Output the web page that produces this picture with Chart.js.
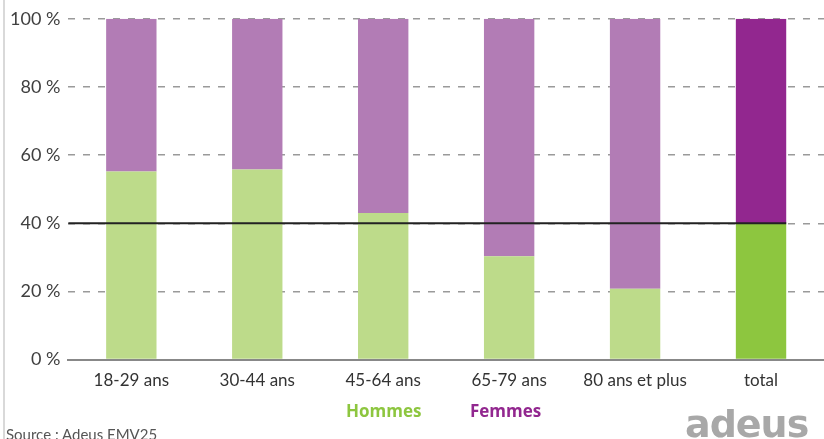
<!DOCTYPE html>
<html>
<head>
<meta charset="utf-8">
<script src="https://cdn.jsdelivr.net/npm/chart.js@4/dist/chart.umd.min.js"></script>
<style>
  html, body { margin: 0; padding: 0; background: #fff; }
  #wrap { position: relative; width: 824px; height: 439px; overflow: hidden; }
  #edge { position: absolute; left: 3px; top: 0; width: 2px; height: 439px; background: #d9d9d9; }
  .leg { position: absolute; top: 399px; font: bold 17px "Open Sans", sans-serif; }
  #source { position: absolute; left: 6px; top: 425px; font: 15px Lato, sans-serif; color: #555; }
  #logo { position: absolute; left: 685px; top: 402px; font: bold 38px "DejaVu Sans", sans-serif; color: #a8a8a8; letter-spacing: -1px; }
</style>
</head>
<body>
<div id="wrap">
  <canvas id="chart" width="824" height="439"></canvas>
  <div id="edge"></div>
  <div class="leg" style="left:346px;color:#8dc63f">Hommes</div>
  <div class="leg" style="left:470px;color:#92278f">Femmes</div>
  <div id="source">Source : Adeus EMV25</div>
  <div id="logo">adeus</div>
</div>
<script>
const categories = ['18-29 ans', '30-44 ans', '45-64 ans', '65-79 ans', '80 ans et plus', 'total'];
const hommes = [55.2, 55.8, 43.0, 30.3, 20.8, 40.0];
const femmes = [44.8, 44.2, 57.0, 69.7, 79.2, 60.0];
const moyenne = 40;

const hommesColors = ['#bddb8a', '#bddb8a', '#bddb8a', '#bddb8a', '#bddb8a', '#8dc63f'];
const femmesColors = ['#b27cb5', '#b27cb5', '#b27cb5', '#b27cb5', '#b27cb5', '#92278f'];

// horizontal reference line at the overall share, up to the end of the total bar
const refLine = {
    id: 'refLine',
    afterDatasetsDraw(chart) {
        const ctx = chart.ctx;
        const y = chart.scales.y.getPixelForValue(moyenne);
        const meta = chart.getDatasetMeta(0);
        const last = meta.data[meta.data.length - 1];
        const xEnd = last.x + last.width / 2;
        ctx.save();
        ctx.strokeStyle = '#222';
        ctx.lineWidth = 2;
        ctx.beginPath();
        ctx.moveTo(chart.chartArea.left, y);
        ctx.lineTo(xEnd, y);
        ctx.stroke();
        ctx.restore();
    }
};

new Chart(document.getElementById('chart').getContext('2d'), {
    type: 'bar',
    data: {
        labels: categories,
        datasets: [
            { label: 'Hommes', data: hommes, backgroundColor: hommesColors },
            { label: 'Femmes', data: femmes, backgroundColor: femmesColors }
        ]
    },
    options: {
        responsive: false,
        animation: false,
        layout: { padding: { left: 2, right: 0, top: 12, bottom: 45 } },
        plugins: { legend: { display: false }, tooltip: { enabled: false } },
        datasets: { bar: { categoryPercentage: 1, barPercentage: 0.4 } },
        scales: {
            x: {
                stacked: true,
                grid: { display: false },
                border: { display: true, color: '#888', width: 2 },
                ticks: { color: '#333', padding: 3, font: { family: 'Lato', size: 17 } }
            },
            y: {
                stacked: true,
                min: 0,
                max: 100,
                ticks: {
                    stepSize: 20,
                    color: '#404040',
                    padding: 8,
                    font: { family: 'Lato', size: 18 },
                    callback: v => v + ' %'
                },
                border: { display: false, dash: [7, 8] },
                grid: {
                    drawTicks: false,
                    color: ctx => ctx.tick.value === 0 ? 'rgba(0,0,0,0)' : '#9a9a9a',
                    lineWidth: 1.5
                }
            }
        }
    },
    plugins: [refLine]
});
</script>
</body>
</html>
